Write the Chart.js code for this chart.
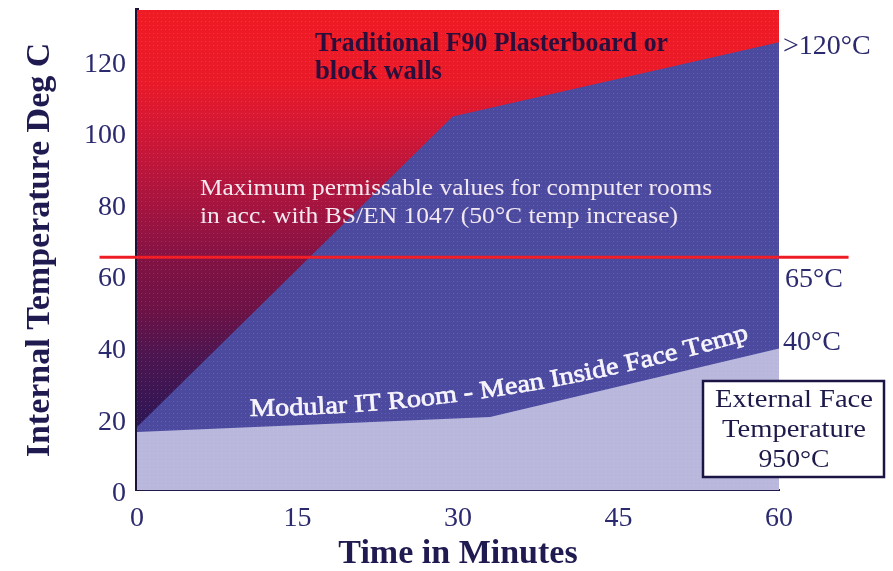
<!DOCTYPE html>
<html>
<head>
<meta charset="utf-8">
<script src="https://cdn.jsdelivr.net/npm/chart.js@4.4.1/dist/chart.umd.min.js"></script>
<style>
  html, body { margin: 0; padding: 0; background: #ffffff; }
  #wrap { width: 893px; height: 571px; }
</style>
</head>
<body>
<div id="wrap"><canvas id="c" width="893" height="571"></canvas></div>
<script>
// ---- data ----
const minuteTicks = [0, 15, 30, 45, 60];
const tempTicks = [0, 20, 40, 60, 80, 100, 120];
const wallMinutes = [0, 29.5, 60];          // Traditional F90 plasterboard / block walls
const wallTemps = [17.6, 104.3, 125];
const modularMinutes = [0, 33, 60];         // Modular IT Room - mean inside face temp
const modularTemps = [16.2, 20.4, 39.5];
const limitMinutes = [-3.5, 66.5];          // max permissible (65°C)
const limitTemps = [65, 65];
const xTitle = 'Time in Minutes';
const yTitle = 'Internal Temperature Deg C';
const wallLabel = ['Traditional F90 Plasterboard or', 'block walls'];
const limitNote = ['Maximum permissable values for computer rooms', 'in acc. with BS/EN 1047 (50°C temp increase)'];
const modularLabel = 'Modular IT Room - Mean Inside Face Temp';
const endLabels = ['>120°C', '65°C', '40°C'];
const endLabelValues = [123.9, 58.7, 41];
const boxLines = ['External Face', 'Temperature', '950°C'];

const pts = (xs, ys) => xs.map((x, i) => ({x, y: ys[i]}));

const SERIF = "'Liberation Serif', 'Times New Roman', serif";
const NAVY = '#2b2a6e';
const DARK = '#1f1a50';

function fitText(ctx, text, x, y, width, center) {
  const m = ctx.measureText(text).width;
  const s = width / m;
  ctx.save();
  ctx.translate(x, y);
  ctx.scale(s, 1);
  ctx.textAlign = 'left';
  ctx.fillText(text, center ? -m / 2 : 0, 0);
  ctx.restore();
}

const bgPlugin = {
  id: 'bg',
  beforeDatasetsDraw(chart) {
    const {ctx, chartArea: a} = chart;
    const g = ctx.createLinearGradient(0, a.top, 0, a.bottom);
    g.addColorStop(0.00, '#ef1b24');
    g.addColorStop(0.15, '#e91a29');
    g.addColorStop(0.26, '#cf1737');
    g.addColorStop(0.41, '#a4143f');
    g.addColorStop(0.52, '#821244');
    g.addColorStop(0.62, '#6e1245');
    g.addColorStop(0.72, '#4c1550');
    g.addColorStop(0.86, '#2e1654');
    g.addColorStop(1.00, '#26154f');
    ctx.save();
    ctx.fillStyle = g;
    ctx.fillRect(a.left, a.top, a.right - a.left, a.bottom - a.top);
    ctx.restore();
  }
};

const textPlugin = {
  id: 'notes',
  afterDatasetsDraw(chart) {
    const {ctx, chartArea: a, scales} = chart;
    const y = scales.y;
    ctx.save();
    // halftone dots
    const pc = document.createElement('canvas');
    pc.width = 4; pc.height = 4;
    const p = pc.getContext('2d');
    p.fillStyle = 'rgba(255,255,255,0.13)';
    p.fillRect(1, 1, 1, 1);
    ctx.fillStyle = ctx.createPattern(pc, 'repeat');
    ctx.fillRect(a.left, a.top, a.right - a.left, a.bottom - a.top);

    ctx.textBaseline = 'alphabetic';
    // wall label
    ctx.fillStyle = '#2a0f3c';
    ctx.font = 'bold 27px ' + SERIF;
    fitText(ctx, wallLabel[0], 315, 51, 353);
    fitText(ctx, wallLabel[1], 315, 79, 127);
    // limit note
    ctx.fillStyle = '#f3e8f0';
    ctx.font = '23px ' + SERIF;
    fitText(ctx, limitNote[0], 200, 195, 512);
    fitText(ctx, limitNote[1], 200, 223, 478);

    // modular label along curved baseline
    ctx.fillStyle = '#f7f4fb';
    ctx.strokeStyle = '#f7f4fb';
    ctx.lineWidth = 0.7;
    ctx.font = '25px ' + SERIF;
    const total = ctx.measureText(modularLabel).width;
    const targetLen = 505;
    const sc = targetLen / total;
    let cx = 250;
    const base = x => 416 - 0.00896 * (x - 250) - 0.0002895 * (x - 250) * (x - 250);
    const slope = x => -0.00896 - 0.000579 * (x - 250);
    for (const ch of modularLabel) {
      const w = ctx.measureText(ch).width * sc;
      const ang = Math.atan(slope(cx + w / 2));
      ctx.save();
      ctx.translate(cx, base(cx));
      ctx.rotate(ang);
      ctx.scale(sc, 1);
      ctx.textAlign = 'left';
      ctx.fillText(ch, 0, 0);
      ctx.strokeText(ch, 0, 0);
      ctx.restore();
      cx += w * Math.cos(ang);
    }

    // end labels
    ctx.fillStyle = NAVY;
    ctx.font = '28px ' + SERIF;
    ctx.textBaseline = 'middle';
    ctx.textAlign = 'left';
    const endX = [783, 785, 783];
    endLabels.forEach((t, i) => ctx.fillText(t, endX[i], y.getPixelForValue(endLabelValues[i])));

    // box
    ctx.fillStyle = '#ffffff';
    ctx.fillRect(703, 381, 181, 96);
    ctx.strokeStyle = '#1a1545';
    ctx.lineWidth = 2.5;
    ctx.strokeRect(703, 381, 181, 96);
    ctx.fillStyle = '#1d1a4a';
    ctx.font = '25px ' + SERIF;
    ctx.textBaseline = 'alphabetic';
    const bw = [158, 144, 71];
    const by = [407, 437, 467];
    boxLines.forEach((t, i) => fitText(ctx, t, 794, by[i], bw[i], true));
    ctx.restore();
  }
};

new Chart(document.getElementById('c'), {
  type: 'line',
  data: {
    datasets: [
      {
        label: 'Modular IT Room - Mean Inside Face Temp',
        data: pts(modularMinutes, modularTemps),
        borderWidth: 0,
        borderColor: 'rgba(0,0,0,0)',
        backgroundColor: '#b9b7dc',
        fill: 'origin',
        pointRadius: 0,
        tension: 0,
        order: 1
      },
      {
        label: 'Traditional F90 Plasterboard or block walls',
        data: pts(wallMinutes, wallTemps),
        borderWidth: 0,
        borderColor: 'rgba(0,0,0,0)',
        backgroundColor: '#4b4a9f',
        fill: 'origin',
        pointRadius: 0,
        tension: 0,
        order: 2
      },
      {
        label: 'Maximum permissible (65°C)',
        data: pts(limitMinutes, limitTemps),
        borderWidth: 3,
        borderColor: '#ee1c25',
        fill: false,
        pointRadius: 0,
        clip: false,
        order: 0
      }
    ]
  },
  options: {
    responsive: false,
    animation: false,
    devicePixelRatio: 1,
    layout: { padding: { top: 10, right: 114, bottom: 0, left: 0 } },
    plugins: { legend: { display: false }, tooltip: { enabled: false } },
    scales: {
      x: {
        type: 'linear',
        min: 0,
        max: 60,
        afterBuildTicks: s => { s.ticks = minuteTicks.map(v => ({value: v})); },
        afterFit: s => { s.height = 81; s.paddingLeft = 0; s.paddingRight = 0; },
        grid: { display: false, drawTicks: false },
        border: { display: true, color: '#201a48', width: 2 },
        ticks: { color: NAVY, font: { family: SERIF, size: 28 }, padding: 12, maxRotation: 0 },
        title: { display: true, text: xTitle, color: DARK, font: { family: SERIF, size: 34, weight: 'bold', lineHeight: 1 }, padding: { top: 0, bottom: 0 } }
      },
      y: {
        min: 0,
        max: 134,
        afterBuildTicks: s => { s.ticks = tempTicks.map(v => ({value: v})); },
        afterFit: s => { s.width = 137; s.paddingTop = 0; s.paddingBottom = 0; },
        grid: { display: false, drawTicks: false },
        border: { display: true, color: '#1c1238', width: 4 },
        ticks: { color: NAVY, font: { family: SERIF, size: 28 }, padding: 11, labelOffset: 4 },
        title: { display: true, text: yTitle, color: DARK, font: { family: SERIF, size: 34, weight: 'bold', lineHeight: 1 }, padding: { top: 23, bottom: 0 } }
      }
    }
  },
  plugins: [bgPlugin, textPlugin]
});
</script>
</body>
</html>
